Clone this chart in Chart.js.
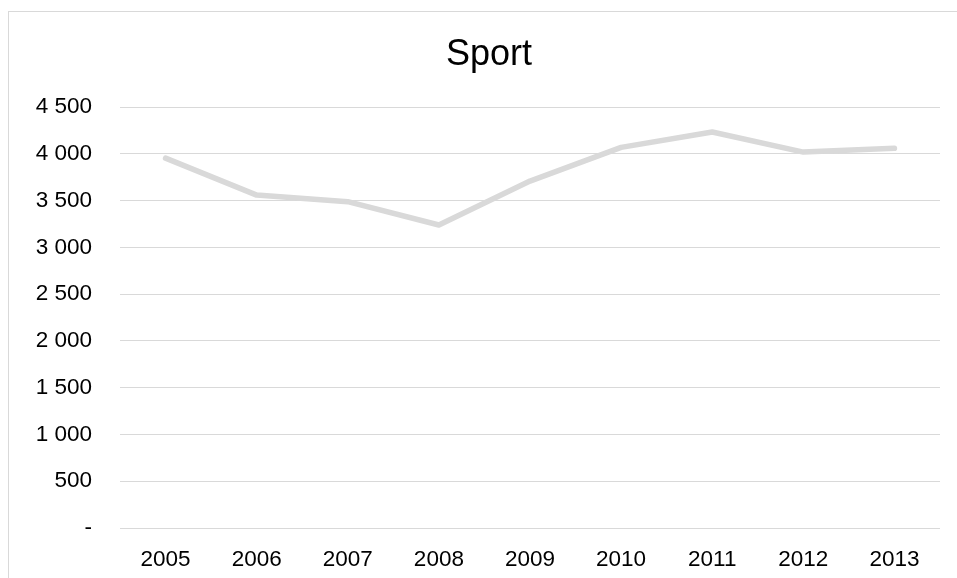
<!DOCTYPE html>
<html>
<head>
<meta charset="utf-8">
<script src="https://cdn.jsdelivr.net/npm/chart.js@4"></script>
<style>
  html, body { margin: 0; padding: 0; background: #fff; overflow: hidden; }
  body { width: 957px; height: 578px; position: relative; }
  #wrap { position: absolute; left: 0; top: 0; width: 978px; height: 578px; }
  #frame { position: absolute; left: 8px; top: 11px; width: 1000px; height: 700px;
           border-left: 1px solid #d9d9d9; border-top: 1px solid #d9d9d9; pointer-events: none; }
</style>
</head>
<body>
<div id="wrap"><canvas id="c"></canvas></div>
<div id="frame"></div>
<script>
const chartTitle = "Sport";
const years = ["2005", "2006", "2007", "2008", "2009", "2010", "2011", "2012", "2013"];
const sportValues = [3955, 3560, 3490, 3240, 3710, 4070, 4235, 4020, 4060];
const yTicks = [0, 500, 1000, 1500, 2000, 2500, 3000, 3500, 4000, 4500];

function fmt(v) {
  if (v === 0) return '-';
  return String(v).replace(/\B(?=(\d{3})+(?!\d))/g, ' ');
}

const FONT = "'Liberation Sans', Arial, sans-serif";

new Chart(document.getElementById('c'), {
  type: 'line',
  data: {
    labels: years,
    datasets: [{
      label: chartTitle,
      data: sportValues,
      borderColor: '#d9d9d9',
      backgroundColor: '#d9d9d9',
      borderWidth: 5.5,
      borderCapStyle: 'round',
      borderJoinStyle: 'round',
      pointRadius: 0,
      tension: 0,
      fill: false,
      yAxisID: 'y'
    }]
  },
  options: {
    responsive: true,
    maintainAspectRatio: false,
    animation: false,
    layout: { padding: 0 },
    plugins: {
      legend: { display: false },
      tooltip: { enabled: false },
      title: {
        display: true,
        text: chartTitle,
        color: '#000',
        font: { family: FONT, size: 36, weight: 'normal', lineHeight: 1.2 },
        padding: { top: 33, bottom: 31 }
      }
    },
    scales: {
      x: {
        offset: true,
        grid: { display: false, drawTicks: false, offset: true },
        border: { display: false },
        ticks: { color: '#000', font: { family: FONT, size: 22.5 }, padding: 18, maxRotation: 0, autoSkip: false },
        afterFit: s => { s.height = 50; }
      },
      y: {
        position: 'left',
        min: 0, max: 4500,
        afterBuildTicks: s => { s.ticks = yTicks.map(v => ({ value: v })); },
        grid: { color: '#d9d9d9', lineWidth: 1, drawTicks: false },
        border: { display: false },
        ticks: { color: '#000', font: { family: FONT, size: 22.5 }, padding: 28, callback: v => fmt(v) },
        afterFit: s => { s.width = 120; }
      },
      yRight: {
        type: 'linear',
        position: 'right',
        min: 0, max: 4500,
        display: true,
        grid: { display: false, drawTicks: false },
        border: { display: false },
        ticks: { display: false },
        afterFit: s => { s.width = 38; }
      }
    }
  }
});
</script>
</body>
</html>
